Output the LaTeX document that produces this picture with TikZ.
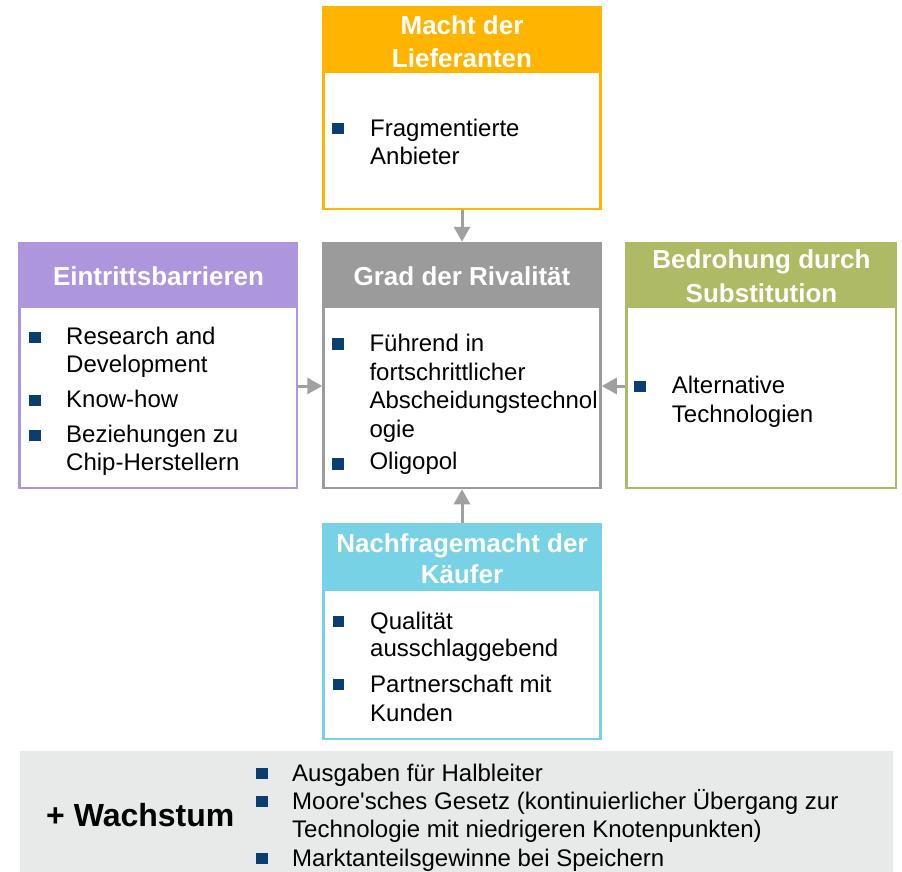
\documentclass[tikz,border=0pt]{standalone}
\usepackage{fontspec}
\setmainfont{Liberation Sans}
\usetikzlibrary{arrows.meta}
\definecolor{corange}{RGB}{255,180,0}
\definecolor{cpurple}{RGB}{173,150,220}
\definecolor{cgray}{RGB}{155,155,155}
\definecolor{colive}{RGB}{175,186,100}
\definecolor{ccyan}{RGB}{120,210,230}
\definecolor{cnavy}{RGB}{10,62,110}
\definecolor{carrow}{RGB}{160,160,160}
\definecolor{cbar}{RGB}{232,233,233}
\tikzset{
 bodytxt/.style={anchor=base west, inner sep=0pt, yshift=-1pt, font=\fontsize{24}{28}\selectfont},
 hdrtxt/.style={anchor=base, inner sep=0pt, yshift=-1.5pt, text=white, font=\fontsize{26}{32}\selectfont\bfseries},
 sq/.style={fill=cnavy, minimum size=11.5pt, inner sep=0pt},
 arr/.style={draw=carrow, line width=3pt, -{Triangle[length=15pt,width=16pt]}},
 box/.style={draw=#1, line width=2.5pt, inner sep=0pt},
}
\begin{document}
\begin{tikzpicture}[x=1pt,y=-1pt]
\useasboundingbox (0,0) rectangle (902,872);
% header fills
\fill[corange] (322.3,6) rectangle (601.7,72.7);
\fill[cpurple] (18.3,241.7) rectangle (298.3,308.3);
\fill[cgray] (322.3,241.7) rectangle (601.7,308.3);
\fill[colive] (625,241.7) rectangle (897.3,308.3);
\fill[ccyan] (322.3,523.3) rectangle (601.7,590.7);
% boxes
\node[box=corange, minimum width=277pt, minimum height=201.5pt] (sup) at (462,108) {};
\node[box=cpurple, minimum width=277.5pt, minimum height=245pt] (ent) at (158.3,365.5) {};
\node[box=cgray, minimum width=277pt, minimum height=245pt] (mid) at (462,365.5) {};
\node[box=colive, minimum width=269.8pt, minimum height=245pt] (sub) at (761.2,365.5) {};
\node[box=ccyan, minimum width=277pt, minimum height=214.2pt] (buy) at (462,631.7) {};
% arrows
\draw[arr] (sup.south) -- (mid.north);
\draw[arr] (buy.north) -- (mid.south);
\draw[arr] (ent.east |- 0,386) -- (mid.west |- 0,386);
\draw[arr] (sub.west |- 0,386) -- (mid.east |- 0,386);
% headers
\node[hdrtxt] (h1a) at (462,33) {Macht der};
\node[hdrtxt] (h1b) at (462,65.7) {Lieferanten};
\node[hdrtxt] (h2) at (158.5,284.3) {Eintrittsbarrieren};
\node[hdrtxt] (h3) at (462,284.3) {Grad der Rivalität};
\node[hdrtxt] (h4a) at (761.5,267.3) {Bedrohung durch};
\node[hdrtxt] (h4b) at (761.5,300.7) {Substitution};
\node[hdrtxt] (h5a) at (462,550.7) {Nachfragemacht der};
\node[hdrtxt] (h5b) at (462,581.7) {Käufer};
% top body
\node[sq] (b1) at (338,128.5) {};
\node[bodytxt] (t1a) at (370,135) {Fragmentierte};
\node[bodytxt] (t1b) at (370,163.5) {Anbieter};
% left body
\node[sq] (b2a) at (35,337.5) {};
\node[sq] (b2b) at (35,400.5) {};
\node[sq] (b2c) at (35,435.5) {};
\node[bodytxt] (t2a) at (66,343) {Research and};
\node[bodytxt] (t2b) at (66,371.7) {Development};
\node[bodytxt] (t2c) at (66,406.7) {Know-how};
\node[bodytxt] (t2d) at (66,441.7) {Beziehungen zu};
\node[bodytxt] (t2e) at (66,469.3) {Chip-Herstellern};
% center body
\node[sq] (b3a) at (338,344) {};
\node[sq] (b3b) at (338,464) {};
\node[bodytxt] (t3a) at (369.3,350) {Führend in};
\node[bodytxt] (t3b) at (369.3,379) {fortschrittlicher};
\node[bodytxt] (t3c) at (369.3,407.3) {Abscheidungstechnol};
\node[bodytxt] (t3d) at (369.3,436) {ogie};
\node[bodytxt] (t3e) at (369.3,468.3) {Oligopol};
% right body
\node[sq] (b4) at (640,386.5) {};
\node[bodytxt] (t4a) at (671.7,392.3) {Alternative};
\node[bodytxt] (t4b) at (671.7,421) {Technologien};
% bottom body
\node[sq] (b5a) at (338.3,621.3) {};
\node[sq] (b5b) at (338.3,684.7) {};
\node[bodytxt] (t5a) at (370,628.3) {Qualität};
\node[bodytxt] (t5b) at (370,655.7) {ausschlaggebend};
\node[bodytxt] (t5c) at (370,691.7) {Partnerschaft mit};
\node[bodytxt] (t5d) at (370,720) {Kunden};
% growth bar
\fill[cbar] (20,751) rectangle (893,872);
\node[anchor=base west, inner sep=0pt, font=\fontsize{32}{36}\selectfont\bfseries] (w) at (46,826.5) {+ Wachstum};
\node[sq] (b6a) at (262,773.5) {};
\node[sq] (b6b) at (262,801.5) {};
\node[sq] (b6c) at (262,858.5) {};
\node[bodytxt] (t6a) at (292,780) {Ausgaben für Halbleiter};
\node[bodytxt] (t6b) at (292,808) {Moore\textquotesingle sches Gesetz (kontinuierlicher Übergang zur};
\node[bodytxt] (t6c) at (292,836) {Technologie mit niedrigeren Knotenpunkten)};
\node[bodytxt] (t6d) at (292,865) {Marktanteilsgewinne bei Speichern};
\end{tikzpicture}
\end{document}
